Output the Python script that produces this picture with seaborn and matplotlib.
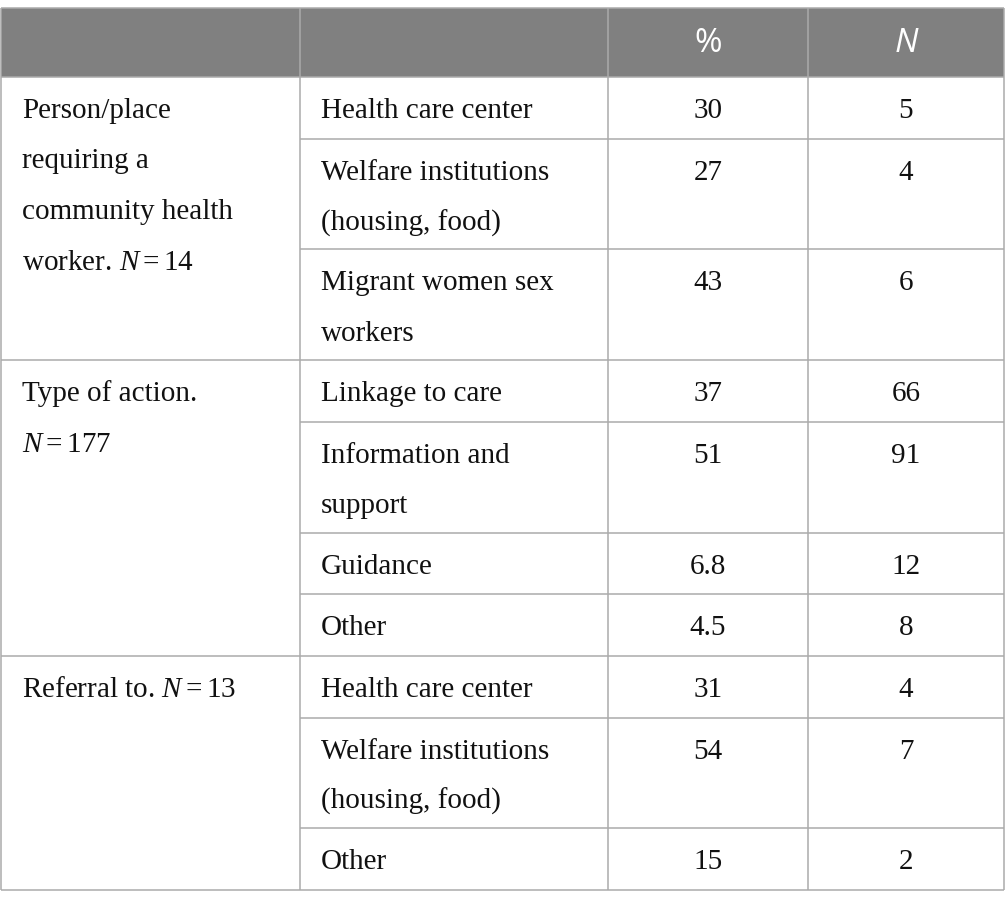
import matplotlib
matplotlib.use("Agg")
import matplotlib.pyplot as plt
import seaborn as sns

# ---- data ----
header = ["", "", "%", "N"]
group_labels = [
    ["Person/place", "requiring a", "community health", "worker. $N = 14$"],
    ["Type of action.", "$N = 177$"],
    ["Referral to. $N = 13$"],
]
group1_items = [["Health care center"], ["Welfare institutions", "(housing, food)"], ["Migrant women sex", "workers"]]
group1_pct = ["30", "27", "43"]
group1_n = ["5", "4", "6"]
group2_items = [["Linkage to care"], ["Information and", "support"], ["Guidance"], ["Other"]]
group2_pct = ["37", "51", "6.8", "4.5"]
group2_n = ["66", "91", "12", "8"]
group3_items = [["Health care center"], ["Welfare institutions", "(housing, food)"], ["Other"]]
group3_pct = ["31", "54", "15"]
group3_n = ["4", "7", "2"]

groups = [
    (group_labels[0], group1_items, group1_pct, group1_n),
    (group_labels[1], group2_items, group2_pct, group2_n),
    (group_labels[2], group3_items, group3_pct, group3_n),
]

# ---- style ----
sns.set_style("white")
plt.rcParams["mathtext.fontset"] = "custom"
plt.rcParams["mathtext.rm"] = "Liberation Serif"
plt.rcParams["mathtext.it"] = "Liberation Serif:italic"

W, H = 1005, 909
fig = plt.figure(figsize=(W / 100, H / 100), dpi=100)
ax = fig.add_axes([0, 0, 1, 1])
ax.set_xlim(0, W)
ax.set_ylim(H, 0)
ax.axis("off")

line_c = "#ababab"
lw = 1.1
text_c = "#111111"
header_bg = "#808080"
body_font = "Liberation Serif"
fs = 21

col_x = [0.5, 300, 608, 808, 1004]
top = 8
header_h = 69
row1 = 61.7
line_step = 49

# header background
ax.add_patch(plt.Rectangle((col_x[0], top), col_x[-1] - col_x[0], header_h,
                           facecolor=header_bg, edgecolor="none", zorder=0))
hy = top + header_h / 2 + 1
ax.text((col_x[2] + col_x[3]) / 2, hy, header[2], color="white", fontsize=24,
        family="Open Sans", ha="center", va="center")
ax.text((col_x[3] + col_x[4]) / 2, hy, header[3], color="white", fontsize=24,
        family="Open Sans", style="italic", ha="center", va="center")

y = top + header_h
ax.hlines([top, y], col_x[0], col_x[-1], colors=line_c, lw=lw, zorder=2)

base_off = 31 + 10
for labels, items, pcts, ns in groups:
    gy = y
    for j, lab in enumerate(labels):
        ax.text(22, gy + base_off + j * 50.5, lab, fontsize=fs, family=body_font,
                color=text_c, ha="left", va="baseline")
    for k, (item, p, n) in enumerate(zip(items, pcts, ns)):
        h = row1 + line_step * (len(item) - 1)
        for j, ln in enumerate(item):
            ax.text(321, y + base_off + j * 50.5, ln, fontsize=fs, family=body_font,
                    color=text_c, ha="left", va="baseline")
        ax.text((col_x[2] + col_x[3]) / 2, y + base_off, p, fontsize=fs,
                family=body_font, color=text_c, ha="center", va="baseline")
        ax.text((col_x[3] + col_x[4]) / 2, y + base_off, n, fontsize=fs,
                family=body_font, color=text_c, ha="center", va="baseline")
        y += h
        if k < len(items) - 1:
            ax.hlines(y, col_x[1], col_x[-1], colors=line_c, lw=lw, zorder=2)
    ax.hlines(y, col_x[0], col_x[-1], colors=line_c, lw=lw, zorder=2)

ax.vlines(col_x, top, y, colors=line_c, lw=lw, zorder=2)

fig.savefig("out.png", dpi=100, facecolor="white")
